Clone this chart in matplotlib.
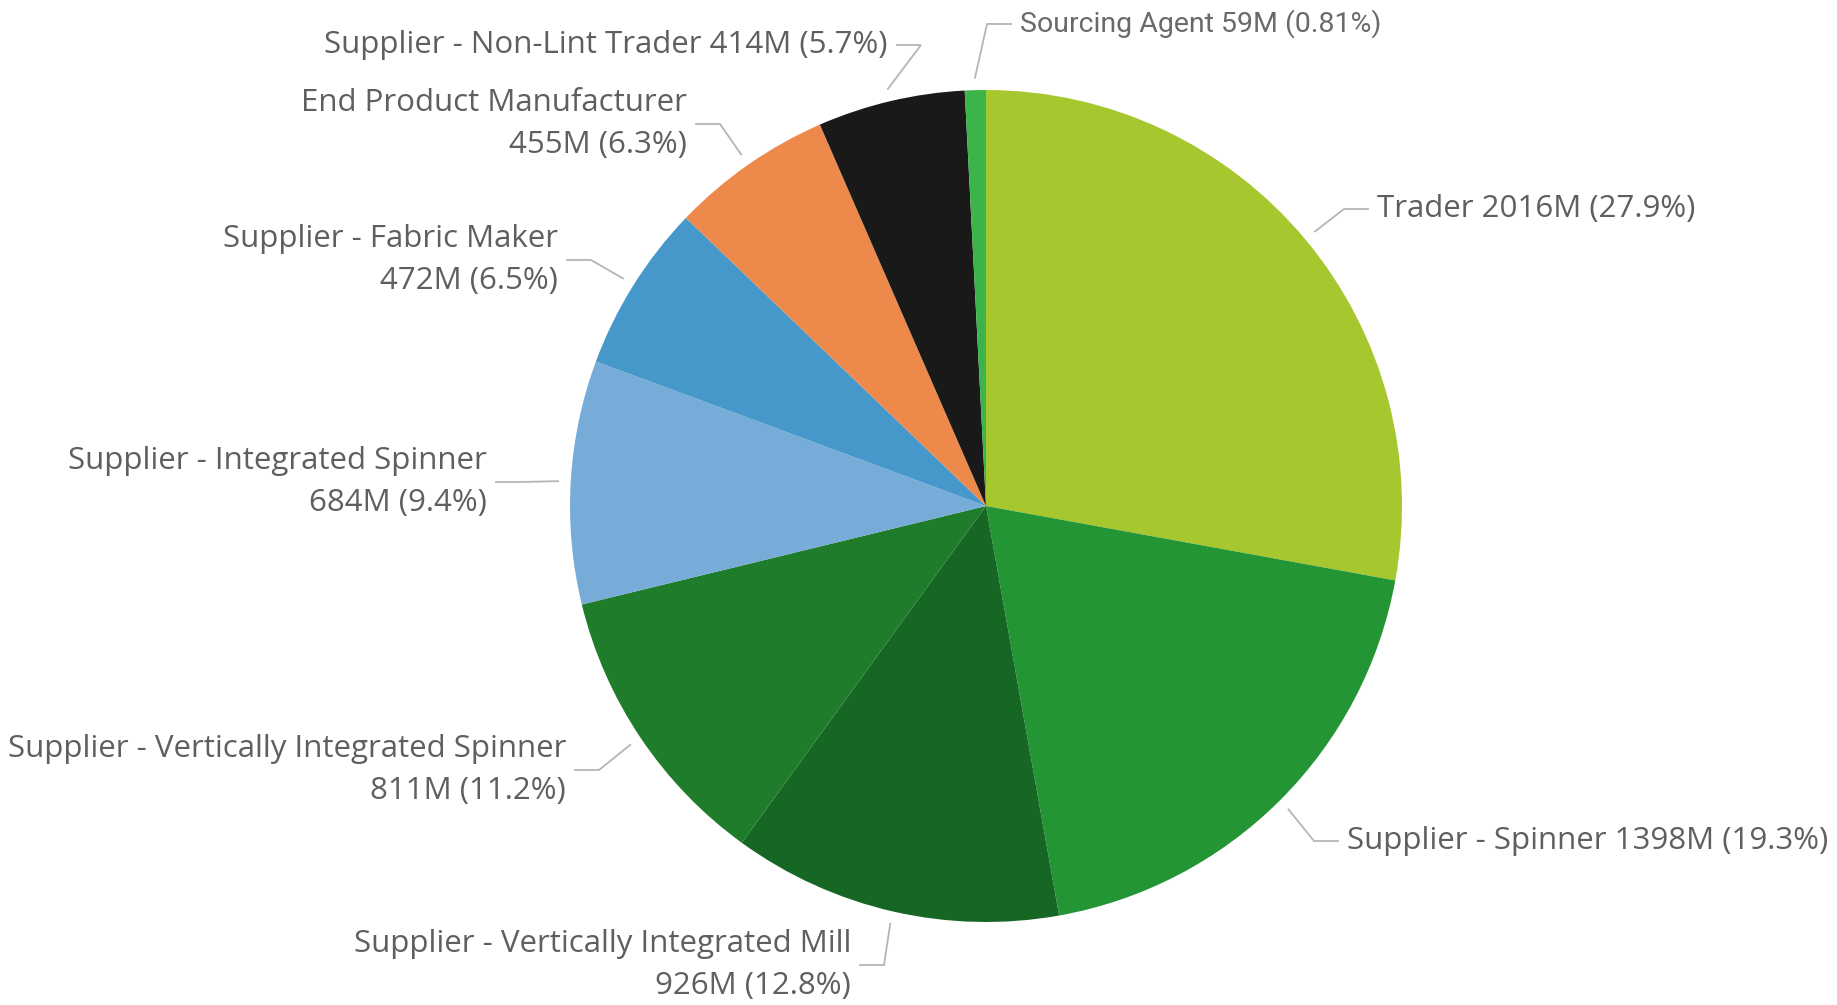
import numpy as np
import matplotlib.pyplot as plt

# slice data, clockwise from 12 o'clock
names = ['Trader', 'Supplier - Spinner', 'Supplier - Vertically Integrated Mill',
         'Supplier - Vertically Integrated Spinner', 'Supplier - Integrated Spinner',
         'Supplier - Fabric Maker', 'End Product Manufacturer',
         'Supplier - Non-Lint Trader', 'Sourcing Agent']
values = [2016, 1398, 926, 811, 684, 472, 455, 414, 59]
pct_text = ['27.9%', '19.3%', '12.8%', '11.2%', '9.4%', '6.5%', '6.3%', '5.7%', '0.81%']
colors = ['#a7c72f', '#249535', '#176724', '#1e7c2b', '#78acd8',
          '#4698ca', '#ed8a4b', '#191919', '#3cb44a']
two_line = [False, False, True, True, True, True, True, False, False]

# label placement (pixels, y from top): text anchor x, text center y, side
label_x = [1377, 1347, 851, 566, 487, 558, 687, 888, 1020]
label_y = [209, 841, 965, 770, 482, 260, 124, 45, 24]
label_side = ['right', 'right', 'left', 'left', 'left', 'left', 'left', 'left', 'right']

W, H = 1837, 1005
cx, cy, R = 986, 506, 416

fig = plt.figure(figsize=(W / 100, H / 100), dpi=100)
ax = fig.add_axes([0, 0, 1, 1])

# y axis runs downward, so counterclockwise in data = clockwise on screen
wedges, _ = ax.pie(values, colors=colors, startangle=-90, counterclock=True,
                   center=(cx, cy), radius=R,
                   wedgeprops=dict(linewidth=0))
ax.set_xlim(0, W)
ax.set_ylim(H, 0)
ax.set_aspect('equal')
ax.axis('off')

text_color = '#5f5f5f'
line_color = '#b5b5b5'

for i, w in enumerate(wedges):
    mid = np.deg2rad((w.theta1 + w.theta2) / 2)
    sx = cx + 1.03 * R * np.cos(mid)
    sy = cy + 1.03 * R * np.sin(mid)
    tx, ty = label_x[i], label_y[i]
    if label_side[i] == 'right':
        ex = tx - 9
        bx = ex - 24
        ha = 'left'
    else:
        ex = tx + 9
        bx = ex + 24
        ha = 'right'
    ax.plot([sx, bx, ex], [sy, ty, ty], color=line_color, lw=1.3,
            solid_joinstyle='miter')
    if two_line[i]:
        txt = f'{names[i]}\n{values[i]}M ({pct_text[i]})'
    else:
        txt = f'{names[i]} {values[i]}M ({pct_text[i]})'
    if names[i] == 'Sourcing Agent':
        ax.text(tx, ty, txt, ha=ha, va='center', fontsize=20.5,
                family='Roboto', color='#6a6a6a')
    else:
        ax.text(tx, ty, txt, ha=ha, va='center', multialignment='right',
                fontsize=22.5, family='Open Sans', color=text_color,
                linespacing=1.48)

fig.savefig('out.png', dpi=100, facecolor='white')
